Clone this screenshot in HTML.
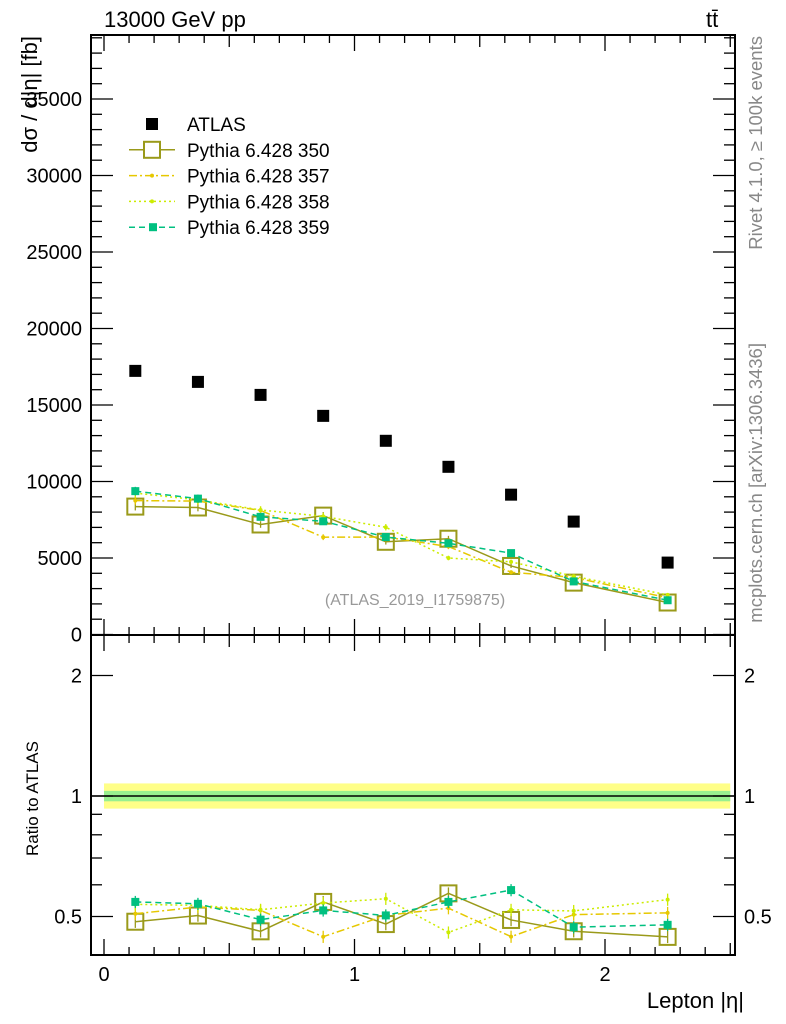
<!DOCTYPE html>
<html><head><meta charset="utf-8">
<style>
body{margin:0;background:#fff;overflow:hidden;}
svg{display:block;font-family:"Liberation Sans",sans-serif;}
</style></head>
<body>
<svg id="c" width="786" height="1024" viewBox="0 0 786 1024" xmlns="http://www.w3.org/2000/svg">
<text x="104" y="27" font-size="22">13000 GeV pp</text>
<text x="706" y="27" font-size="22">tt̄</text>
<text transform="translate(37,36) rotate(-90)" font-size="22" text-anchor="end">dσ / d|η| [fb]</text>
<text transform="translate(38,856) rotate(-90)" font-size="17" text-anchor="start">Ratio to ATLAS</text>
<text x="744" y="1008" font-size="22" text-anchor="end">Lepton |η|</text>
<text transform="translate(762,36) rotate(-90)" font-size="18.5" fill="#888" text-anchor="end">Rivet 4.1.0, ≥ 100k events</text>
<text transform="translate(762,343) rotate(-90)" font-size="18.5" fill="#888" text-anchor="end">mcplots.cern.ch [arXiv:1306.3436]</text>
<text x="415" y="605" font-size="16" fill="#999" text-anchor="middle">(ATLAS_2019_I1759875)</text>
<g id="g"></g>
</svg>
<script>
const binCenters=[0.125,0.375,0.625,0.875,1.125,1.375,1.625,1.875,2.25];
const atlas=[17230,16510,15660,14290,12660,10960,9140,7380,4700];
const py350=[8360,8300,7190,7770,6060,6260,4480,3390,2090];
const py357=[8750,8720,8110,6360,6370,5750,4070,3730,2400];
const py358=[9240,8800,8140,7720,7010,5000,4750,3810,2590];
const py359=[9370,8880,7690,7400,6370,5960,5320,3470,2240];
const mainTicks=[0,5000,10000,15000,20000,25000,30000,35000];
const ratioTicks=[0.5,1,2];
const xTicks=[0,1,2];

const NS="http://www.w3.org/2000/svg";
const G=document.getElementById('g');
function el(t,a,p){const e=document.createElementNS(NS,t);for(const k in a)e.setAttribute(k,a[k]);(p||G).appendChild(e);return e;}
const L=91,R=735,T=35,M=635,B=955;
const X=v=>104+v*250.5;
const Y=v=>634.5-v*76.5/5000;
const YR=v=>796-Math.log2(v)*120.5;

let b=el('rect',{x:X(0),y:YR(1.075),width:X(2.5)-X(0),height:YR(0.93)-YR(1.075),fill:'#ffff88'});


b=el('rect',{x:X(0),y:YR(1.03),width:X(2.5)-X(0),height:YR(0.97)-YR(1.03),fill:'#99f08f'});


b=el('line',{x1:L,x2:R,y1:YR(1),y2:YR(1),stroke:'#000','stroke-width':1.5});



let f=el('rect',{x:L,y:T,width:R-L,height:M-T,fill:'none',stroke:'#000','stroke-width':2});


f=el('rect',{x:L,y:M,width:R-L,height:B-M,fill:'none',stroke:'#000','stroke-width':2});



for(let v=0;v<=39000;v+=1000){const y=Y(v);if(y<T)break;const maj=v%5000==0;const len=maj?22:11;
 el('line',{x1:L,x2:L+len,y1:y,y2:y,stroke:'#000','stroke-width':1.3});
 el('line',{x1:R,x2:R-len,y1:y,y2:y,stroke:'#000','stroke-width':1.3});}
mainTicks.forEach(v=>{const t=el('text',{x:82,y:Y(v)+7,'font-size':20,'text-anchor':'end'});t.textContent=v;
 
 });
[0.4,0.5,0.6,0.7,0.8,0.9,1,2].forEach(v=>{const y=YR(v);const maj=ratioTicks.includes(v);const len=maj?22:11;
 el('line',{x1:L,x2:L+len,y1:y,y2:y,stroke:'#000','stroke-width':1.3});
 el('line',{x1:R,x2:R-len,y1:y,y2:y,stroke:'#000','stroke-width':1.3});});
ratioTicks.forEach(v=>{let t=el('text',{x:82,y:YR(v)+7,'font-size':20,'text-anchor':'end'});t.textContent=v;
 
 
 t=el('text',{x:744,y:YR(v)+7,'font-size':20});t.textContent=v;
 
 });
for(let i=0;i<=25;i++){const v=i/10,x=X(v);const len=i%10==0?16:(i%5==0?12:8);
 el('line',{x1:x,x2:x,y1:M,y2:M-len,stroke:'#000','stroke-width':1.3});
 el('line',{x1:x,x2:x,y1:T,y2:T+len,stroke:'#000','stroke-width':1.3});
 el('line',{x1:x,x2:x,y1:M,y2:M+len,stroke:'#000','stroke-width':1.3});
 el('line',{x1:x,x2:x,y1:B,y2:B-len,stroke:'#000','stroke-width':1.3});}
xTicks.forEach(v=>{const t=el('text',{x:X(v),y:981,'font-size':20,'text-anchor':'middle'});t.textContent=v;
 
 });

const series=[
 {name:'pythia-350',d:py350,c:'#9a9a1a',dash:'',mk:'sq'},
 {name:'pythia-357',d:py357,c:'#e6c800',dash:'8,3,2,3',mk:'dot'},
 {name:'pythia-358',d:py358,c:'#ccec00',dash:'2,3',mk:'dot'},
 {name:'pythia-359',d:py359,c:'#00c080',dash:'6,4',mk:'fsq'}];
function drawSeries(s,ratio){
 const yf=ratio?(i=>YR(s.d[i]/atlas[i])):(i=>Y(s.d[i]));
 const pts=binCenters.map((x,i)=>X(x)+','+yf(i)).join(' ');
 const p=el('polyline',{points:pts,fill:'none',stroke:s.c,'stroke-width':1.5,'stroke-dasharray':s.dash});
 
 
 binCenters.forEach((x,i)=>{const cx=X(x),cy=yf(i);
  const e=ratio?0.035*s.d[i]/atlas[i]:0.03*s.d[i];
  const y1=ratio?YR(s.d[i]/atlas[i]+e):Y(s.d[i]+e),y2=ratio?YR(s.d[i]/atlas[i]-e):Y(s.d[i]-e);
  el('line',{x1:cx,x2:cx,y1:y1,y2:y2,stroke:s.c,'stroke-width':1.3});
  let m;
  if(s.mk=='sq')m=el('rect',{x:cx-8,y:cy-8,width:16,height:16,fill:'none',stroke:s.c,'stroke-width':2});
  else if(s.mk=='fsq')m=el('rect',{x:cx-4,y:cy-4,width:8,height:8,fill:s.c});
  else m=el('circle',{cx:cx,cy:cy,r:2,fill:s.c});
  
  });
}
series.forEach(s=>{drawSeries(s,false);drawSeries(s,true);});
atlas.forEach((v,i)=>{const m=el('rect',{x:X(binCenters[i])-6,y:Y(v)-6,width:12,height:12,fill:'#000'});
 
 });

const lg=el('g',{});


const labels=['ATLAS','Pythia 6.428 350','Pythia 6.428 357','Pythia 6.428 358','Pythia 6.428 359'];
labels.forEach((t,i)=>{const y=124+i*25.8;
 const tx=el('text',{x:187,y:y+7,'font-size':19},lg);tx.textContent=t;
 
 
 if(i==0){el('rect',{x:146,y:y-6,width:12,height:12,fill:'#000'},lg);return;}
 const s=series[i-1];
 el('line',{x1:129,x2:175,y1:y,y2:y,stroke:s.c,'stroke-width':1.5,'stroke-dasharray':s.dash},lg);
 if(s.mk=='sq')el('rect',{x:144,y:y-8,width:16,height:16,fill:'#fff',stroke:s.c,'stroke-width':2},lg);
 else if(s.mk=='fsq')el('rect',{x:149,y:y-4,width:8,height:8,fill:s.c},lg);
 else el('circle',{cx:152,cy:y,r:2,fill:s.c},lg);});
</script>
</body></html>
